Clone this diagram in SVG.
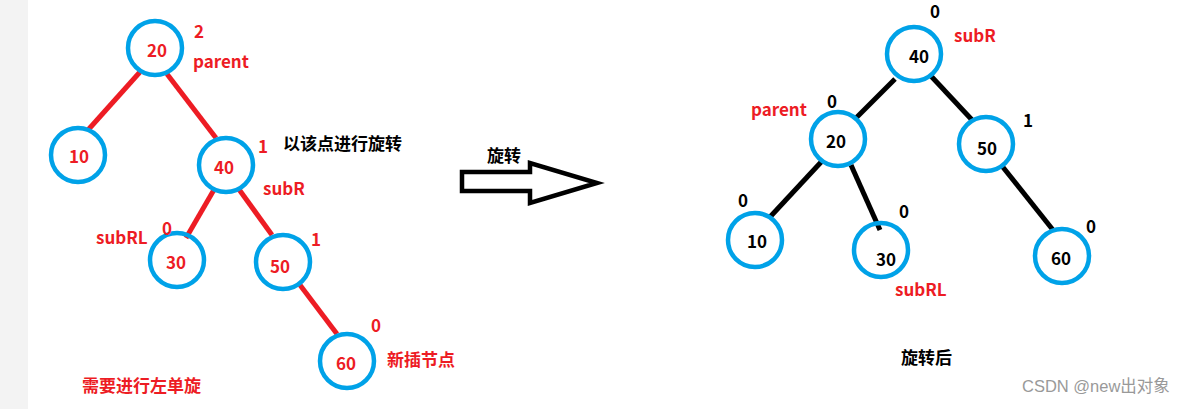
<svg xmlns="http://www.w3.org/2000/svg" width="1187" height="409" viewBox="0 0 1187 409">
<style>
.n{fill:none;stroke:#00a2e8;stroke-width:4.5}
.t{font-family:"Noto Sans CJK SC","Noto Sans",sans-serif;font-weight:bold;font-size:17px}
.r{fill:#ed1c24}
.k{fill:#000}
.c{text-anchor:middle}
.er{stroke:#ed1c24;stroke-width:5;stroke-linecap:butt}
.ek{stroke:#000;stroke-width:5;stroke-linecap:butt}
</style>
<rect x="0" y="0" width="1187" height="409" fill="#fff"/>
<rect x="0" y="0" width="28" height="409" fill="#f3f3f3"/>
<g id="connectors">
<line class="er" x1="140" y1="72" x2="88" y2="130"/>
<line class="er" x1="167" y1="74" x2="216" y2="138"/>
<line class="er" x1="215" y1="188" x2="186" y2="238"/>
<line class="er" x1="238" y1="188" x2="272" y2="235"/>
<line class="er" x1="300" y1="285" x2="337" y2="334"/>
<line class="ek" x1="895" y1="79" x2="856" y2="118"/>
<line class="ek" x1="931" y1="76" x2="973" y2="121"/>
<line class="ek" x1="823" y1="160" x2="770" y2="217"/>
<line class="ek" x1="851" y1="165" x2="880" y2="230"/>
<line class="ek" x1="1002" y1="166" x2="1053" y2="230"/>
</g>
<g id="L20"><circle class="n" cx="155" cy="48" r="27"/><text class="t r c" x="157" y="57">20</text><text class="t r" x="194" y="38">2</text><text class="t r" x="193" y="68">parent</text></g>
<g id="L10"><circle class="n" cx="78" cy="155" r="27"/><text class="t r c" x="79" y="163">10</text></g>
<g id="L40"><circle class="n" cx="226" cy="165" r="27"/><text class="t r c" x="224" y="174">40</text><text class="t r" x="258" y="153">1</text><text class="t r" x="263" y="195">subR</text><text class="t k" x="283" y="150">以该点进行旋转</text></g>
<g id="L30"><circle class="n" cx="177" cy="260" r="27"/><text class="t r c" x="176" y="269">30</text><text class="t r" x="162" y="235">0</text><text class="t r" x="96" y="244">subRL</text></g>
<g id="L50"><circle class="n" cx="283" cy="262" r="27"/><text class="t r c" x="280" y="273">50</text><text class="t r" x="311" y="246">1</text></g>
<g id="L60"><circle class="n" cx="347" cy="361" r="27"/><text class="t r c" x="346" y="370">60</text><text class="t r" x="371" y="332">0</text><text class="t r" x="387" y="366">新插节点</text></g>
<text class="t r" x="82" y="392">需要进行左单旋</text>
<g id="arrow"><polygon points="462,172 530,172 530,163 597,183 530,203 530,191 462,191" fill="none" stroke="#000" stroke-width="4.5" stroke-linejoin="miter"/><text class="t k" x="487" y="162">旋转</text></g>
<g id="R40"><circle class="n" cx="914" cy="54" r="27"/><text class="t k c" x="919" y="63">40</text><text class="t k" x="930" y="18">0</text><text class="t r" x="954" y="42">subR</text></g>
<g id="R20"><circle class="n" cx="838" cy="139" r="27"/><text class="t k c" x="836" y="148">20</text><text class="t k" x="827" y="108">0</text><text class="t r" x="751" y="116">parent</text></g>
<g id="R50"><circle class="n" cx="986" cy="144" r="27"/><text class="t k c" x="987" y="155">50</text><text class="t k" x="1023" y="127">1</text></g>
<g id="R10"><circle class="n" cx="755" cy="240" r="27"/><text class="t k c" x="757" y="248">10</text><text class="t k" x="738" y="207">0</text></g>
<g id="R30"><circle class="n" cx="881" cy="250" r="27"/><text class="t k c" x="886" y="266">30</text><text class="t k" x="899" y="218">0</text><text class="t r" x="895" y="296">subRL</text></g>
<g id="R60"><circle class="n" cx="1062" cy="256" r="27"/><text class="t k c" x="1061" y="265">60</text><text class="t k" x="1086" y="233">0</text></g>
<text class="t k" x="901" y="364">旋转后</text>
<text x="1022" y="392" font-family="'Liberation Sans','Noto Sans CJK SC',sans-serif" font-size="16.5" fill="#999">CSDN @new出对象</text>
</svg>
